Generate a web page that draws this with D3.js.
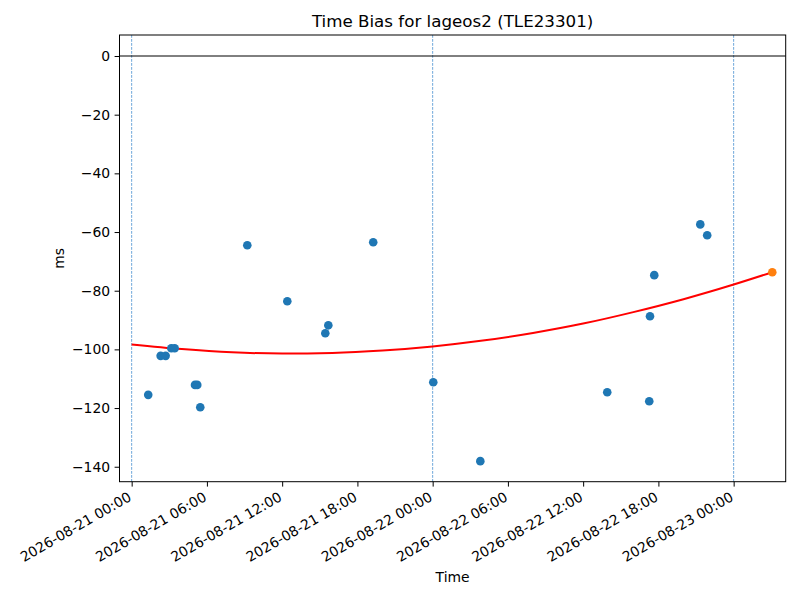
<html>
<head>
  <style>
  body { margin: 0; background: #fff; }
  #chart text {
    font-family: "DejaVu Sans", sans-serif;
    fill: #000;
  }
  </style>
  <script src="https://d3js.org/d3.v7.min.js"></script>
</head>
<body>
  <svg id="chart"></svg>
</body>
  <script>

  var title = "Time Bias for lageos2 (TLE23301)";
  var start = new Date(2026, 7, 21, 0, 0);

  // observed time bias, hours after start / ms
  var obsHours = [1.32, 2.31, 2.71, 3.16, 3.43, 5.05, 5.23, 5.47, 9.22, 12.41, 15.44, 15.68,
                  19.26, 24.05, 27.80, 37.92, 41.27, 41.33, 41.67, 45.34, 45.89];
  var obsBias = [-115.5, -102.2, -102.2, -99.6, -99.6, -112.1, -112.1, -119.7, -64.5, -83.6, -94.5, -91.8,
                 -63.5, -111.2, -138.1, -114.6, -117.7, -88.7, -74.7, -57.4, -61.1];

  // predicted point
  var predHour = [51.08];
  var predBias = [-73.7];

  // fitted curve
  var fitHours = [0, 4, 8, 12, 16, 20, 24, 28, 32, 36, 40, 44, 48, 51.08];
  var fitBias = [-98.3, -99.9, -101.0, -101.4, -101.2, -100.4, -99.0, -97.0, -94.4, -91.2, -87.3, -82.9, -77.9, -73.7];

  var dayLines = [0, 24, 48];
  var tickHours = [0, 6, 12, 18, 24, 30, 36, 42, 48];
  var yTicks = [0, -20, -40, -60, -80, -100, -120, -140];

  var width = 800,
      height = 600,
      plotLeft = 119.5, plotRight = 785.7, plotTop = 35, plotBottom = 481.7;

  function hourDate(h) { return new Date(start.getTime() + h * 3600000); }

  var x = d3.scaleTime()
      .domain([hourDate(-0.97), hourDate(52.15)])
      .range([plotLeft, plotRight]);
  var y = d3.scaleLinear()
      .domain([-145.1, 7.16])
      .range([plotBottom, plotTop]);

  var svg = d3.select("#chart")
      .attr("width", width)
      .attr("height", height);

  svg.append("rect").attr("width", width).attr("height", height).attr("fill", "#fff");

  // dashed day lines
  svg.selectAll("line.day")
      .data(dayLines)
    .enter().append("line")
      .attr("class", "day")
      .attr("x1", function(d) { return x(hourDate(d)); })
      .attr("x2", function(d) { return x(hourDate(d)); })
      .attr("y1", plotTop).attr("y2", plotBottom)
      .attr("stroke", "#4a90d0")
      .attr("stroke-width", 0.8)
      .attr("stroke-dasharray", "2.8,1.2");

  // zero line
  svg.append("line")
      .attr("x1", plotLeft).attr("x2", plotRight)
      .attr("y1", y(0)).attr("y2", y(0))
      .attr("stroke", "#000")
      .attr("stroke-width", 1);

  var fit = fitHours.map(function(h, i) { return [h, fitBias[i]]; });
  svg.append("path")
      .datum(fit)
      .attr("fill", "none")
      .attr("stroke", "red")
      .attr("stroke-width", 2)
      .attr("d", d3.line()
        .x(function(d) { return x(hourDate(d[0])); })
        .y(function(d) { return y(d[1]); })
        .curve(d3.curveMonotoneX));

  svg.selectAll("circle.obs")
      .data(obsHours)
    .enter().append("circle")
      .attr("class", "obs")
      .attr("cx", function(d) { return x(hourDate(d)); })
      .attr("cy", function(d, i) { return y(obsBias[i]); })
      .attr("r", 4.3)
      .attr("fill", "#1f77b4");

  svg.selectAll("circle.pred")
      .data(predHour)
    .enter().append("circle")
      .attr("class", "pred")
      .attr("cx", function(d) { return x(hourDate(d)); })
      .attr("cy", function(d, i) { return y(predBias[i]); })
      .attr("r", 4.3)
      .attr("fill", "#ff7f0e");

  // frame
  svg.append("rect")
      .attr("x", plotLeft).attr("y", plotTop)
      .attr("width", plotRight - plotLeft).attr("height", plotBottom - plotTop)
      .attr("fill", "none")
      .attr("stroke", "#000")
      .attr("stroke-width", 1);

  // y axis
  var yAxis = svg.append("g")
      .attr("transform", "translate(" + plotLeft + ",0)")
      .call(d3.axisLeft(y).tickValues(yTicks).tickSize(4.9).tickPadding(4.5)
        .tickFormat(function(d) { return d < 0 ? "\u2212" + Math.abs(d) : d; }));
  yAxis.select(".domain").remove();
  yAxis.selectAll("text").style("font-size", "13.9px").attr("fill", "#000");

  // x axis
  var xAxis = svg.append("g")
      .attr("transform", "translate(0," + plotBottom + ")")
      .call(d3.axisBottom(x).tickValues(tickHours.map(hourDate)).tickSize(4.9)
        .tickFormat(d3.timeFormat("%Y-%m-%d %H:%M")));
  xAxis.select(".domain").remove();
  xAxis.selectAll("text")
      .style("font-size", "13.9px")
      .attr("fill", "#000")
      .attr("text-anchor", "end")
      .attr("dominant-baseline", "hanging")
      .attr("y", 0).attr("dy", 0)
      .attr("transform", "translate(-5,9) rotate(-30)");

  svg.append("text")
      .attr("x", (plotLeft + plotRight) / 2).attr("y", 27)
      .attr("text-anchor", "middle")
      .style("font-size", "16.7px")
      .text(title);

  svg.append("text")
      .attr("x", (plotLeft + plotRight) / 2).attr("y", 582)
      .attr("text-anchor", "middle")
      .style("font-size", "13.9px")
      .text("Time");

  svg.append("text")
      .attr("transform", "translate(64," + (plotTop + plotBottom) / 2 + ") rotate(-90)")
      .attr("text-anchor", "middle")
      .style("font-size", "13.9px")
      .text("ms");

  </script>
</html>
